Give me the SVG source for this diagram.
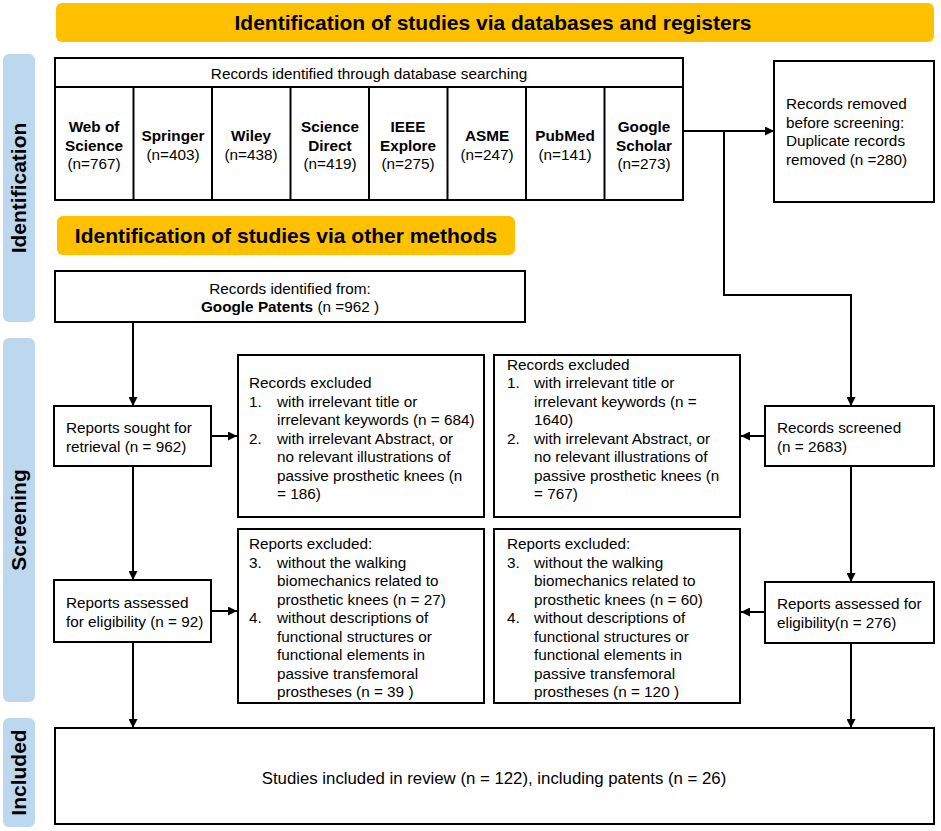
<svg xmlns="http://www.w3.org/2000/svg" width="941" height="831" viewBox="0 0 941 831">
<style>
text{font-family:"Liberation Sans",Arial,sans-serif;fill:#000}
.t{font-size:15.3px}
.b{font-weight:bold}
.c{text-anchor:middle}
.box{fill:#fff;stroke:#000;stroke-width:2}
.ban{fill:#FFC000}
.bar{fill:#BDD7EE}
.h{font-size:21px;font-weight:bold}
.ln{fill:none;stroke:#000;stroke-width:2}
</style>
<defs>
<marker id="ah" viewBox="0 0 10 10" refX="10" refY="5" markerWidth="10" markerHeight="9" markerUnits="userSpaceOnUse" orient="auto">
<path d="M0,0 L10,5 L0,10 z" fill="#000"/>
</marker>
</defs>
<rect width="941" height="831" fill="#fff"/>

<g id="phase-bars">
<rect class="bar" x="3" y="54" width="32" height="268" rx="6"/>
<text class="h c" transform="translate(26,188) rotate(-90)">Identification</text>
<rect class="bar" x="3" y="338" width="32" height="364" rx="6"/>
<text class="h c" transform="translate(26,520) rotate(-90)">Screening</text>
<rect class="bar" x="3" y="718" width="32" height="109" rx="6"/>
<text class="h c" transform="translate(26,772.5) rotate(-90)">Included</text>
</g>

<g id="banner-databases">
<rect class="ban" x="56" y="3" width="878" height="39" rx="6"/>
<text class="h c" x="493" y="30">Identification of studies via databases and registers</text>
</g>

<g id="banner-other">
<rect class="ban" x="57" y="216" width="458" height="39" rx="6"/>
<text class="h c" x="286" y="243">Identification of studies via other methods</text>
</g>

<g id="database-search">
<rect class="box" x="55" y="58" width="628" height="142"/>
<line class="ln" x1="55" y1="87" x2="683" y2="87"/>
<g class="ln">
<line x1="133.5" y1="87" x2="133.5" y2="200"/>
<line x1="212" y1="87" x2="212" y2="200"/>
<line x1="290.5" y1="87" x2="290.5" y2="200"/>
<line x1="369" y1="87" x2="369" y2="200"/>
<line x1="447.5" y1="87" x2="447.5" y2="200"/>
<line x1="526" y1="87" x2="526" y2="200"/>
<line x1="604.5" y1="87" x2="604.5" y2="200"/>
</g>
<text class="t c" x="369" y="79">Records identified through database searching</text>
<text class="t c" x="94"><tspan class="b" x="94" y="132">Web of</tspan><tspan class="b" x="94" y="150.5">Science</tspan><tspan x="94" y="169">(n=767)</tspan></text>
<text class="t c" x="173"><tspan class="b" x="173" y="141">Springer</tspan><tspan x="173" y="160">(n=403)</tspan></text>
<text class="t c" x="251"><tspan class="b" x="251" y="141">Wiley</tspan><tspan x="251" y="160">(n=438)</tspan></text>
<text class="t c" x="330"><tspan class="b" x="330" y="132">Science</tspan><tspan class="b" x="330" y="150.5">Direct</tspan><tspan x="330" y="169">(n=419)</tspan></text>
<text class="t c" x="408"><tspan class="b" x="408" y="132">IEEE</tspan><tspan class="b" x="408" y="150.5">Explore</tspan><tspan x="408" y="169">(n=275)</tspan></text>
<text class="t c" x="487"><tspan class="b" x="487" y="141">ASME</tspan><tspan x="487" y="160">(n=247)</tspan></text>
<text class="t c" x="565"><tspan class="b" x="565" y="141">PubMed</tspan><tspan x="565" y="160">(n=141)</tspan></text>
<text class="t c" x="644"><tspan class="b" x="644" y="132">Google</tspan><tspan class="b" x="644" y="150.5">Scholar</tspan><tspan x="644" y="169">(n=273)</tspan></text>
</g>

<g id="records-removed">
<rect class="box" x="774" y="61" width="160" height="141"/>
<text class="t"><tspan x="786" y="109">Records removed</tspan><tspan x="786" y="127.5">before screening:</tspan><tspan x="786" y="146">Duplicate records</tspan><tspan x="786" y="164.5">removed  (n =280)</tspan></text>
</g>

<g id="records-other">
<rect class="box" x="55" y="271" width="470" height="51"/>
<text class="t c" x="290" y="294">Records identified from:</text>
<text class="t c" x="290" y="312"><tspan class="b">Google Patents</tspan> (n =962 )</text>
</g>

<g id="reports-sought">
<rect class="box" x="54" y="406" width="157" height="60"/>
<text class="t"><tspan x="66" y="433">Reports sought for</tspan><tspan x="66" y="452">retrieval (n = 962)</tspan></text>
</g>

<g id="records-excluded-left">
<rect class="box" x="238" y="355" width="246" height="162"/>
<text class="t">
<tspan x="249" y="388">Records excluded</tspan>
<tspan x="249" y="406.5">1.</tspan><tspan x="277" y="406.5">with irrelevant title or</tspan>
<tspan x="277" y="425">irrelevant keywords (n = 684)</tspan>
<tspan x="249" y="443.5">2.</tspan><tspan x="277" y="443.5">with irrelevant Abstract, or</tspan>
<tspan x="277" y="462">no relevant illustrations of</tspan>
<tspan x="277" y="480.5">passive prosthetic knees (n</tspan>
<tspan x="277" y="499">= 186)</tspan>
</text>
</g>

<g id="records-excluded-right">
<rect class="box" x="494" y="355" width="246" height="162"/>
<text class="t">
<tspan x="507" y="369.5">Records excluded</tspan>
<tspan x="507" y="388">1.</tspan><tspan x="534" y="388">with irrelevant title or</tspan>
<tspan x="534" y="406.5">irrelevant keywords (n =</tspan>
<tspan x="534" y="425">1640)</tspan>
<tspan x="507" y="443.5">2.</tspan><tspan x="534" y="443.5">with irrelevant Abstract, or</tspan>
<tspan x="534" y="462">no relevant illustrations of</tspan>
<tspan x="534" y="480.5">passive prosthetic knees (n</tspan>
<tspan x="534" y="499">= 767)</tspan>
</text>
</g>

<g id="records-screened">
<rect class="box" x="765" y="406" width="169" height="60"/>
<text class="t"><tspan x="777" y="433">Records screened</tspan><tspan x="777" y="452">(n = 2683)</tspan></text>
</g>

<g id="reports-assessed-left">
<rect class="box" x="54" y="580" width="157" height="62"/>
<text class="t"><tspan x="66" y="608">Reports assessed</tspan><tspan x="66" y="627">for eligibility (n = 92)</tspan></text>
</g>

<g id="reports-excluded-left">
<rect class="box" x="238" y="529" width="246" height="174"/>
<text class="t">
<tspan x="249" y="549">Reports excluded:</tspan>
<tspan x="249" y="567.5">3.</tspan><tspan x="277" y="567.5">without the walking</tspan>
<tspan x="277" y="586">biomechanics related to</tspan>
<tspan x="277" y="604.5">prosthetic knees (n = 27)</tspan>
<tspan x="249" y="623">4.</tspan><tspan x="277" y="623">without descriptions of</tspan>
<tspan x="277" y="641.5">functional structures or</tspan>
<tspan x="277" y="660">functional elements in</tspan>
<tspan x="277" y="678.5">passive transfemoral</tspan>
<tspan x="277" y="697">prostheses (n = 39 )</tspan>
</text>
</g>

<g id="reports-excluded-right">
<rect class="box" x="494" y="529" width="246" height="174"/>
<text class="t">
<tspan x="507" y="549">Reports excluded:</tspan>
<tspan x="507" y="567.5">3.</tspan><tspan x="534" y="567.5">without the walking</tspan>
<tspan x="534" y="586">biomechanics related to</tspan>
<tspan x="534" y="604.5">prosthetic knees (n = 60)</tspan>
<tspan x="507" y="623">4.</tspan><tspan x="534" y="623">without descriptions of</tspan>
<tspan x="534" y="641.5">functional structures or</tspan>
<tspan x="534" y="660">functional elements in</tspan>
<tspan x="534" y="678.5">passive transfemoral</tspan>
<tspan x="534" y="697">prostheses (n = 120 )</tspan>
</text>
</g>

<g id="reports-assessed-right">
<rect class="box" x="765" y="582" width="169" height="61"/>
<text class="t"><tspan x="777" y="609">Reports assessed for</tspan><tspan x="777" y="628">eligibility(n = 276)</tspan></text>
</g>

<g id="included">
<rect class="box" x="55" y="728" width="879" height="96"/>
<text class="c" x="494" y="784" style="font-size:16.8px">Studies included in review (n = 122), including patents (n = 26)</text>
</g>

<g id="connectors" class="ln">
<line x1="683" y1="131" x2="774" y2="131" marker-end="url(#ah)"/>
<polyline points="724,131 724,295 851,295 851,406" marker-end="url(#ah)"/>
<line x1="133" y1="322" x2="133" y2="406" marker-end="url(#ah)"/>
<line x1="211" y1="436" x2="237" y2="436" marker-end="url(#ah)"/>
<line x1="765" y1="436" x2="741" y2="436" marker-end="url(#ah)"/>
<line x1="133" y1="466" x2="133" y2="580" marker-end="url(#ah)"/>
<line x1="851" y1="466" x2="851" y2="582" marker-end="url(#ah)"/>
<line x1="211" y1="611" x2="237" y2="611" marker-end="url(#ah)"/>
<line x1="765" y1="612" x2="741" y2="612" marker-end="url(#ah)"/>
<line x1="133" y1="642" x2="133" y2="728" marker-end="url(#ah)"/>
<line x1="851" y1="643" x2="851" y2="728" marker-end="url(#ah)"/>
</g>
</svg>
